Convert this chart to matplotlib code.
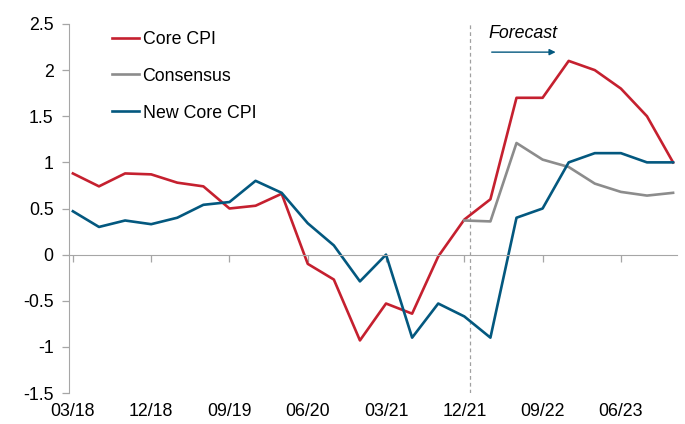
import numpy as np
import matplotlib
matplotlib.use("Agg")
import matplotlib.pyplot as plt

plt.rcParams['font.family'] = ['Liberation Sans', 'DejaVu Sans']

# quarterly data, 03/18 .. 12/23
quarters = ["03/18", "06/18", "09/18", "12/18", "03/19", "06/19", "09/19", "12/19",
            "03/20", "06/20", "09/20", "12/20", "03/21", "06/21", "09/21", "12/21",
            "03/22", "06/22", "09/22", "12/22", "03/23", "06/23", "09/23", "12/23"]

core_cpi = [0.88, 0.74, 0.88, 0.87, 0.78, 0.74, 0.50, 0.53, 0.66, -0.10, -0.27, -0.93,
            -0.53, -0.64, -0.02, 0.38, 0.60, 1.70, 1.70, 2.10, 2.00, 1.80, 1.50, 1.00]

# consensus only from 12/21 onwards
consensus = [np.nan] * 15 + [0.37, 0.36, 1.21, 1.03, 0.95, 0.77, 0.68, 0.64, 0.67]

new_core_cpi = [0.47, 0.30, 0.37, 0.33, 0.40, 0.54, 0.57, 0.80, 0.67, 0.34, 0.10, -0.29,
                0.00, -0.90, -0.53, -0.67, -0.90, 0.40, 0.50, 1.00, 1.10, 1.10, 1.00, 1.00]

red = "#C5202F"
grey = "#8C8C8C"
blue = "#03587F"
axis_grey = "#A6A6A6"

x = np.arange(len(quarters))

fig = plt.figure(figsize=(6.85, 4.24), dpi=100)
ax = fig.add_axes([0.1007, 0.0731, 0.8876, 0.8703])

ax.plot(x, core_cpi, color=red, lw=1.9, label="Core CPI")
ax.plot(x, consensus, color=grey, lw=1.9, label="Consensus")
ax.plot(x, new_core_cpi, color=blue, lw=1.9, label="New Core CPI")

# forecast marker
ax.axvline(15.2, ymin=0, ymax=1, color="#A0A0A0", lw=0.9, ls=(0, (3, 2.5)), zorder=0)
ax.text(17.25, 2.40, "Forecast", style="italic", fontsize=12.8, ha="center", va="center")
ax.annotate("", xy=(18.5, 2.195), xytext=(16.05, 2.195),
            arrowprops=dict(arrowstyle="-|>", color=blue, lw=1.0,
                            mutation_scale=9, shrinkA=0, shrinkB=0))

ax.set_xlim(-0.15, 23.15)
ax.set_ylim(-1.5, 2.5)
ax.set_yticks(np.arange(-1.5, 2.51, 0.5))
ax.set_yticklabels(["-1.5", "-1", "-0.5", "0", "0.5", "1", "1.5", "2", "2.5"])

for s in ["top", "right"]:
    ax.spines[s].set_visible(False)
ax.spines["left"].set_color(axis_grey)
ax.spines["bottom"].set_position(("data", 0))
ax.spines["bottom"].set_color(axis_grey)
ax.tick_params(axis="y", colors=axis_grey, length=5, width=0.9, pad=6,
               labelcolor="black", labelsize=12.8)

tick_idx = x[::3]
ax.set_xticks(tick_idx)
ax.tick_params(axis="x", colors=axis_grey, length=5, width=0.9, labelbottom=False)

# labels at the bottom of the plot area
sec = ax.secondary_xaxis(0)
sec.set_xticks(tick_idx)
sec.set_xticklabels([quarters[i] for i in tick_idx])
sec.tick_params(length=0, pad=7, labelsize=12.8)
sec.spines["bottom"].set_visible(False)

ax.legend(loc="upper left", bbox_to_anchor=(0.045, 1.025), frameon=False, fontsize=12.8,
          handlelength=1.5, handletextpad=0.2, labelspacing=1.12)

fig.savefig("out.png", dpi=100)
